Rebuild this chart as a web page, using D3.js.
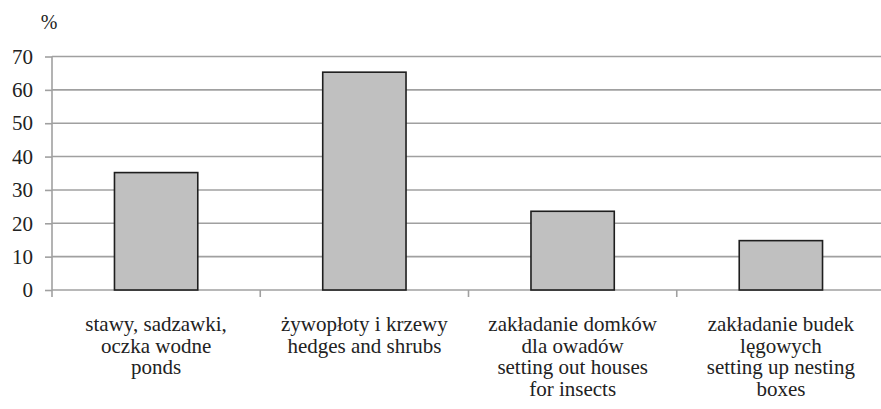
<!DOCTYPE html>
<html>
<head>
<meta charset="utf-8">
<script src="https://cdn.jsdelivr.net/npm/d3@7"></script>
</head>
<body style="margin:0">
<svg id="chart" width="881" height="409" style="display:block"></svg>
<script>
// Share of respondents (%) per kind of garden habitat feature
const categories = [
  ["stawy, sadzawki,", "oczka wodne", "ponds"],
  ["żywopłoty i krzewy", "hedges and shrubs"],
  ["zakładanie domków", "dla owadów", "setting out houses", "for insects"],
  ["zakładanie budek", "lęgowych", "setting up nesting", "boxes"]
];
const values = [35.2, 65.3, 23.6, 14.8];
const yTicks = [0, 10, 20, 30, 40, 50, 60, 70];
const unitLabel = "%";

const FONT = "'Liberation Serif'";
const TEXT_COLOR = "#222";
const GRID = "#a0a0a0";

const svg = d3.select("#chart");
const x0 = 52, x1 = 885;
const yTop = 56.5, yBottom = 290;

const x = d3.scaleBand()
  .domain(d3.range(categories.length))
  .range([x0, x1])
  .paddingInner(0.6)
  .paddingOuter(0.3);

const y = d3.scaleLinear().domain([0, 70]).range([yBottom, yTop]);

// horizontal gridlines
svg.append("g")
  .selectAll("line")
  .data(yTicks)
  .join("line")
  .attr("x1", x0).attr("x2", x1)
  .attr("y1", d => y(d)).attr("y2", d => y(d))
  .attr("stroke", GRID)
  .attr("stroke-width", 1.6);

// y axis
const yAxis = d3.axisLeft(y).tickValues(yTicks).tickSize(7).tickPadding(12);
const gy = svg.append("g").attr("transform", `translate(${x0},0)`).call(yAxis);
gy.select(".domain").remove();
gy.selectAll(".tick line").attr("stroke", GRID).attr("stroke-width", 1.6);
gy.selectAll(".tick text")
  .style("font-family", FONT)
  .style("font-size", "21px")
  .style("fill", TEXT_COLOR);
svg.append("line")
  .attr("x1", x0).attr("x2", x0)
  .attr("y1", yTop).attr("y2", yBottom + 7)
  .attr("stroke", GRID).attr("stroke-width", 1.6);

// category separators below the baseline
const step = (x1 - x0) / categories.length;
svg.append("g")
  .selectAll("line")
  .data(d3.range(1, categories.length))
  .join("line")
  .attr("x1", d => x0 + d * step).attr("x2", d => x0 + d * step)
  .attr("y1", yBottom).attr("y2", yBottom + 7)
  .attr("stroke", GRID).attr("stroke-width", 1.6);

// unit label
svg.append("text")
  .attr("x", 49).attr("y", 29)
  .attr("text-anchor", "middle")
  .style("font-family", FONT)
  .style("font-size", "20px")
  .style("fill", TEXT_COLOR)
  .text(unitLabel);

// bars
svg.append("g")
  .selectAll("rect")
  .data(values)
  .join("rect")
  .attr("x", (d, i) => x(i))
  .attr("width", x.bandwidth())
  .attr("y", d => y(d))
  .attr("height", d => y(0) - y(d))
  .attr("fill", "#c0c0c0")
  .attr("stroke", "#1e1e1e")
  .attr("stroke-width", 1.6);

// category labels, one text per line
const labels = svg.append("g");
categories.forEach((lines, i) => {
  lines.forEach((line, j) => {
    labels.append("text")
      .attr("x", x(i) + x.bandwidth() / 2)
      .attr("y", 331 + j * 21.7)
      .attr("text-anchor", "middle")
      .style("font-family", FONT)
      .style("font-size", "21px")
      .style("fill", TEXT_COLOR)
      .text(line);
  });
});
</script>
</body>
</html>
